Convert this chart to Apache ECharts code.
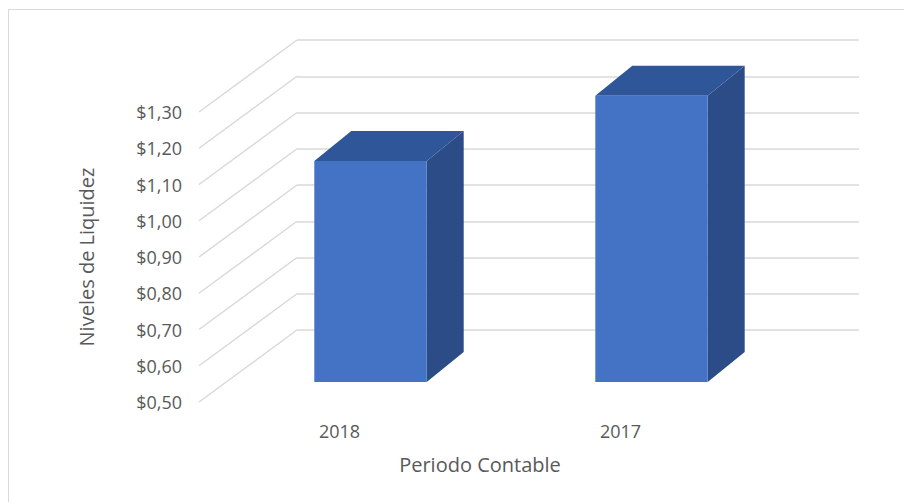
<!DOCTYPE html>
<html>
<head>
<meta charset="utf-8">
<script src="https://cdn.jsdelivr.net/npm/echarts@6/dist/echarts.min.js"></script>
<style>
  html, body { margin: 0; padding: 0; background: #ffffff; }
  #chart { width: 904px; height: 502px; }
</style>
</head>
<body>
<div id="chart"></div>
<script>
// Liquidity level per accounting period
const categories = ['2018', '2017'];
const liquidez = [1.11, 1.29];

// Value axis ticks and their labels
const yTicks = [0.5, 0.6, 0.7, 0.8, 0.9, 1.0, 1.1, 1.2, 1.3];
const yTickLabels = ['$0,50', '$0,60', '$0,70', '$0,80', '$0,90', '$1,00', '$1,10', '$1,20', '$1,30'];

// Layout: back wall grid and front edge grid (the front is the back wall
// pushed forward along the depth direction)
const BACK = { left: 297, right: 45, top: 40, bottom: 172 };
const DEPTH_DX = -98;
const DEPTH_DY = 72;
const FRONT = {
  left: BACK.left + DEPTH_DX,
  right: BACK.right - DEPTH_DX,
  top: BACK.top + DEPTH_DY,
  bottom: BACK.bottom - DEPTH_DY
};
// Offsets of the box faces relative to the back wall
const BAR_FRONT = [-67, 52];
const BAR_BACK = [-30, 22];
const BAR_RATIO = 0.4;

const TEXT = '#595959';
const GRID_LINE = '#d9d9d9';
const FONT = 'Open Sans';

const chart = echarts.init(document.getElementById('chart'), null, { renderer: 'svg' });

function tickLabel(v) {
  const k = Math.round((v - yTicks[0]) / 0.1);
  return yTickLabels[k] !== undefined ? yTickLabels[k] : '';
}

chart.setOption({
  backgroundColor: '#ffffff',
  animation: false,
  graphic: [{
    type: 'rect',
    shape: { x: 8.5, y: 9.5, width: 1200, height: 1200 },
    style: { fill: 'none', stroke: GRID_LINE, lineWidth: 1 },
    silent: true
  }],
  grid: [
    { left: BACK.left, right: BACK.right, top: BACK.top, bottom: BACK.bottom },
    { left: FRONT.left, right: FRONT.right, top: FRONT.top, bottom: FRONT.bottom }
  ],
  xAxis: [
    {
      gridIndex: 0, type: 'category', data: categories,
      axisLine: { show: false }, axisTick: { show: false }, axisLabel: { show: false }
    },
    {
      gridIndex: 1, type: 'category', data: categories,
      axisLine: { show: false }, axisTick: { show: false },
      axisLabel: { color: TEXT, fontFamily: FONT, fontSize: 18, margin: 20 },
      name: 'Periodo Contable', nameLocation: 'middle', nameGap: 52,
      nameTextStyle: { color: TEXT, fontFamily: FONT, fontSize: 20 }
    }
  ],
  yAxis: [
    {
      gridIndex: 0, type: 'value', min: 0.5, max: 1.3, interval: 0.1,
      axisLine: { show: false }, axisTick: { show: false }, axisLabel: { show: false },
      splitLine: { show: true, lineStyle: { color: GRID_LINE, width: 1.5 } }
    },
    {
      gridIndex: 1, type: 'value', min: 0.5, max: 1.3, interval: 0.1,
      axisLine: { show: false }, axisTick: { show: false },
      splitLine: { show: false },
      axisLabel: {
        color: TEXT, fontFamily: FONT, fontSize: 18, margin: 17,
        formatter: tickLabel
      },
      name: 'Niveles de Liquidez', nameLocation: 'middle', nameGap: 103,
      nameRotate: 90,
      nameTextStyle: { color: TEXT, fontFamily: FONT, fontSize: 20 }
    }
  ],
  series: [
    {
      // side wall lines running from the back wall to the front edge
      type: 'custom',
      xAxisIndex: 0, yAxisIndex: 0,
      silent: true,
      data: yTicks.map(v => [0, v]),
      renderItem: function (params, api) {
        const y = api.coord([0, api.value(1)])[1];
        const x = params.coordSys.x;
        return {
          type: 'line',
          shape: { x1: x, y1: y, x2: x + DEPTH_DX, y2: y + DEPTH_DY },
          style: { stroke: GRID_LINE, lineWidth: 1.5 }
        };
      }
    },
    {
      // 3D boxes
      type: 'custom',
      xAxisIndex: 0, yAxisIndex: 0,
      data: categories.map((c, i) => [i, liquidez[i]]),
      renderItem: function (params, api) {
        const i = api.value(0);
        const v = api.value(1);
        const top = api.coord([i, v]);
        const base = api.coord([i, yTicks[0]]);
        const hw = api.size([1, 0])[0] * BAR_RATIO / 2;
        const fx = BAR_FRONT[0], fy = BAR_FRONT[1];
        const bx = BAR_BACK[0], by = BAR_BACK[1];
        const fl = top[0] - hw + fx, fr = top[0] + hw + fx;
        const bl = top[0] - hw + bx, br = top[0] + hw + bx;
        const ft = top[1] + fy, fb = base[1] + fy;
        const bt = top[1] + by, bb = base[1] + by;
        return {
          type: 'group',
          children: [
            {
              type: 'polygon',
              shape: { points: [[fr, ft], [br, bt], [br, bb], [fr, fb]] },
              style: { fill: '#2B4C87' }
            },
            {
              type: 'polygon',
              shape: { points: [[fl, ft], [bl, bt], [br, bt], [fr, ft]] },
              style: { fill: '#2F5699' }
            },
            {
              type: 'rect',
              shape: { x: fl, y: ft, width: fr - fl, height: fb - ft },
              style: { fill: '#4472C4' }
            }
          ]
        };
      }
    }
  ]
});
</script>
</body>
</html>
